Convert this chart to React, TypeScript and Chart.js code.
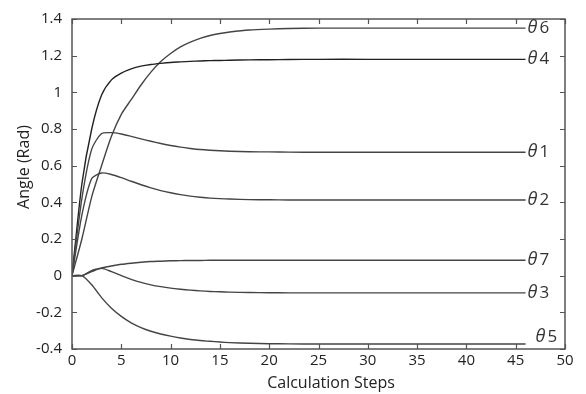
import React, { useEffect, useRef } from "react";
import { Chart, registerables } from "chart.js";

Chart.register(...registerables);

const steps = [0, 1, 2, 3, 4, 5, 6, 7, 8, 9, 10, 11, 12, 13, 14, 15, 16, 18, 20, 22, 25, 30, 35, 40, 46];

const theta1 = [0, 0.42, 0.69, 0.775, 0.78, 0.773, 0.76, 0.746, 0.733, 0.721, 0.71, 0.701, 0.694, 0.688, 0.684, 0.681, 0.679, 0.676, 0.675, 0.674, 0.673, 0.673, 0.673, 0.673, 0.673];
const theta2 = [0, 0.33, 0.53, 0.56, 0.552, 0.535, 0.515, 0.496, 0.479, 0.464, 0.452, 0.442, 0.434, 0.428, 0.423, 0.42, 0.418, 0.415, 0.414, 0.413, 0.413, 0.413, 0.413, 0.413, 0.413];
const theta3 = [0, 0, 0.022, 0.04, 0.022, 0.0, -0.02, -0.037, -0.05, -0.06, -0.068, -0.074, -0.079, -0.083, -0.086, -0.088, -0.09, -0.092, -0.093, -0.094, -0.094, -0.094, -0.094, -0.094, -0.094];
const theta4 = [0, 0.5, 0.8, 0.985, 1.068, 1.105, 1.128, 1.143, 1.152, 1.158, 1.163, 1.166, 1.169, 1.171, 1.173, 1.174, 1.175, 1.177, 1.178, 1.179, 1.18, 1.18, 1.18, 1.18, 1.18];
const theta5 = [0, 0, -0.05, -0.12, -0.178, -0.222, -0.257, -0.283, -0.303, -0.318, -0.33, -0.34, -0.348, -0.354, -0.358, -0.362, -0.365, -0.369, -0.371, -0.372, -0.373, -0.373, -0.373, -0.373, -0.373];
const theta6 = [0, 0.2, 0.43, 0.6, 0.76, 0.88, 0.96, 1.04, 1.11, 1.168, 1.212, 1.248, 1.274, 1.294, 1.31, 1.321, 1.329, 1.34, 1.345, 1.348, 1.35, 1.35, 1.35, 1.35, 1.35];
const theta7 = [0, 0, 0.028, 0.042, 0.053, 0.062, 0.068, 0.073, 0.077, 0.079, 0.081, 0.082, 0.083, 0.083, 0.084, 0.084, 0.084, 0.084, 0.084, 0.084, 0.084, 0.084, 0.084, 0.084, 0.084];

const seriesNames = ["1", "2", "3", "4", "5", "6", "7"];
const seriesValues = [theta1, theta2, theta3, theta4, theta5, theta6, theta7];

const xTicks = [0, 5, 10, 15, 20, 25, 30, 35, 40, 45, 50];
const yTicks = [-0.4, -0.2, 0, 0.2, 0.4, 0.6, 0.8, 1, 1.2, 1.4];
const yTickLabels = ["-0.4", "-0.2", "0", "0.2", "0.4", "0.6", "0.8", "1", "1.2", "1.4"];

const xTitle = "Calculation Steps";
const yTitle = "Angle (Rad)";

const FONT = "'Open Sans', 'DejaVu Sans', sans-serif";

const framePlugin = {
  id: "frameAndLabels",
  afterDraw(chart: any) {
    const { ctx, chartArea } = chart;
    const { left, right, top, bottom } = chartArea;
    const xs = chart.scales.x;
    const ys = chart.scales.y;
    ctx.save();
    ctx.strokeStyle = "#555";
    ctx.lineWidth = 1.5;
    ctx.strokeRect(left, top, right - left, bottom - top);
    ctx.lineWidth = 1.2;
    ctx.beginPath();
    const tl = 5;
    xTicks.forEach((v) => {
      const px = Math.round(xs.getPixelForValue(v)) + 0.5;
      ctx.moveTo(px, bottom);
      ctx.lineTo(px, bottom - tl);
      ctx.moveTo(px, top);
      ctx.lineTo(px, top + tl);
    });
    yTicks.forEach((v) => {
      const py = Math.round(ys.getPixelForValue(v)) + 0.5;
      ctx.moveTo(left, py);
      ctx.lineTo(left + tl, py);
      ctx.moveTo(right, py);
      ctx.lineTo(right - tl, py);
    });
    ctx.stroke();

    // axis titles
    ctx.fillStyle = "#222";
    ctx.font = `16px ${FONT}`;
    ctx.textAlign = "center";
    ctx.textBaseline = "middle";
    ctx.fillText(xTitle, 331, 383);
    ctx.save();
    ctx.translate(24, 167);
    ctx.rotate(-Math.PI / 2);
    ctx.fillText(yTitle, 0, 0);
    ctx.restore();

    // series labels
    chart.data.datasets.forEach((ds: any, i: number) => {
      const meta = chart.getDatasetMeta(i);
      const last = meta.data[meta.data.length - 1];
      let x = last.x + 2;
      let y = last.y;
      if (ds.label === "5") {
        x += 8;
        y -= 7;
      }
      ctx.fillStyle = "#333";
      ctx.textAlign = "left";
      ctx.textBaseline = "middle";
      ctx.font = `italic 18px ${FONT}`;
      ctx.fillText("\u03b8", x, y);
      const w = ctx.measureText("\u03b8").width;
      ctx.font = `17px ${FONT}`;
      ctx.fillText(ds.label, x + w + 2, y);
    });
    ctx.restore();
  },
};

export default function App() {
  const ref = useRef<HTMLCanvasElement | null>(null);
  useEffect(() => {
    if (!ref.current) return;
    const chart = new Chart(ref.current, {
      type: "line",
      data: {
        datasets: seriesValues.map((vals, i) => ({
          label: seriesNames[i],
          data: steps.map((s, j) => ({ x: s, y: vals[j] })),
          borderColor: i === 3 ? "#222" : "#444",
          borderWidth: 1.4,
          pointRadius: 0,
          tension: 0.25,
          fill: false,
        })),
      },
      options: {
        responsive: false,
        animation: false,
        layout: { padding: { top: 19, right: 21, left: 0, bottom: 0 } },
        plugins: { legend: { display: false }, tooltip: { enabled: false } },
        scales: {
          x: {
            type: "linear",
            min: 0,
            max: 50,
            afterBuildTicks: (s: any) => {
              s.ticks = xTicks.map((v) => ({ value: v }));
            },
            afterFit: (s: any) => {
              s.height = 45;
            },
            grid: { display: false, drawTicks: false },
            border: { display: false },
            ticks: { color: "#222", font: { family: FONT, size: 15 }, padding: 3, maxRotation: 0 },
          },
          y: {
            type: "linear",
            min: -0.4,
            max: 1.4,
            afterBuildTicks: (s: any) => {
              s.ticks = yTicks.map((v) => ({ value: v }));
            },
            afterFit: (s: any) => {
              s.width = 72;
            },
            grid: { display: false, drawTicks: false },
            border: { display: false },
            ticks: {
              color: "#222",
              font: { family: FONT, size: 15 },
              padding: 10,
              callback: (v: any) => {
                const idx = yTicks.findIndex((t) => Math.abs(t - Number(v)) < 1e-6);
                return idx >= 0 ? yTickLabels[idx] : "";
              },
            },
          },
        },
      },
      plugins: [framePlugin],
    });
    return () => chart.destroy();
  }, []);
  return (
    <div style={{ position: "absolute", left: 0, top: 0, width: 586, height: 394, background: "#fff" }}>
      <canvas ref={ref} width={586} height={394} style={{ width: 586, height: 394 }} />
    </div>
  );
}
